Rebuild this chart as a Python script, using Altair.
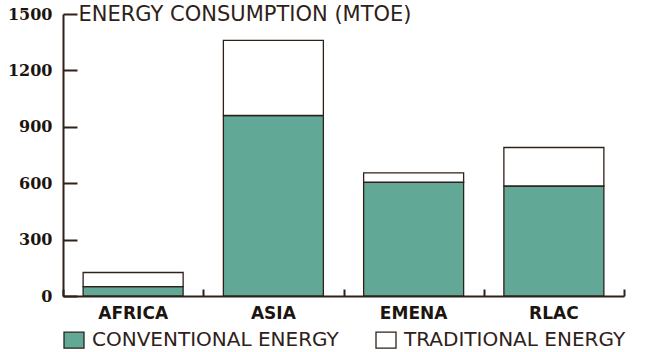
import altair as alt
import pandas as pd

regions = ["AFRICA", "ASIA", "EMENA", "RLAC"]
conventional = [50, 960, 605, 585]
traditional = [75, 400, 50, 205]
series = ["CONVENTIONAL ENERGY", "TRADITIONAL ENERGY"]
y_ticks = [0, 300, 600, 900, 1200, 1500]

rows = []
for i, r in enumerate(regions):
    rows.append({"region": r, "type": series[0], "value": conventional[i], "order": 0})
    rows.append({"region": r, "type": series[1], "value": traditional[i], "order": 1})
df = pd.DataFrame(rows)

dark = "#2e2119"
teal = "#62a896"
W, H = 561, 282

base = alt.Chart(df)

bars = base.mark_bar(stroke=dark, strokeWidth=1.3, width=100).encode(
    x=alt.X(
        "region:N", sort=regions,
        scale=alt.Scale(paddingInner=0, paddingOuter=0),
        axis=alt.Axis(
            title=None, orient="bottom", ticks=False, tickSize=0,
            domainColor=dark, domainWidth=2,
            labelFont="DejaVu Sans", labelFontWeight="bold", labelFontSize=17,
            labelColor="#1c1410", labelPadding=9, labelAngle=0,
        ),
    ),
    y=alt.Y(
        "value:Q", stack="zero",
        scale=alt.Scale(domain=[0, 1500], nice=False),
        axis=alt.Axis(
            values=y_ticks, format="d", title="ENERGY CONSUMPTION (MTOE)",
            titleAngle=0, titleAlign="left", titleBaseline="alphabetic",
            titleX=15, titleY=6, titleFont="DejaVu Sans", titleFontWeight="normal",
            titleFontSize=21, titleColor=dark,
            ticks=False, tickSize=0, labelPadding=11, grid=False,
            domainColor=dark, domainWidth=2,
            labelFont="DejaVu Serif", labelFontWeight="bold", labelFontSize=16,
            labelColor="#1c1410",
        ),
    ),
    color=alt.Color(
        "type:N",
        scale=alt.Scale(domain=series, range=[teal, "#ffffff"]),
        legend=alt.Legend(
            title=None, orient="none", legendX=0, legendY=315,
            direction="horizontal", symbolType="M-1,-0.8H1V0.8H-1Z",
            symbolSize=400, symbolStrokeColor=dark, symbolStrokeWidth=1.3,
            symbolOpacity=1, labelFont="DejaVu Sans", labelFontSize=20,
            labelColor=dark, labelOffset=7, columnPadding=34, padding=0,
            labelLimit=400,
        ),
    ),
    order=alt.Order("order:Q", sort="ascending"),
)

ticks = base.mark_bar(opacity=0).encode(
    x=alt.X(
        "region:N", sort=regions,
        axis=alt.Axis(
            orient="top", offset=-H, labels=False, domain=False, ticks=True,
            tickSize=7, tickBand="extent", tickColor=dark, tickWidth=2, title=None,
        ),
    ),
    y=alt.Y(
        "sum(value):Q",
        axis=alt.Axis(
            orient="right", offset=-W, labels=False, domain=False,
            tickSize=14, tickColor=dark, tickWidth=2, values=y_ticks,
            title=None, grid=False,
        ),
    ),
)

chart = (
    alt.layer(bars, ticks)
    .resolve_axis(x="independent", y="independent")
    .properties(
        width=W, height=H,
        padding={"left": 63, "top": 14, "right": 25, "bottom": 56},
        autosize=alt.AutoSizeParams(type="none"),
        background="#ffffff",
    )
    .configure_view(stroke=None)
)

chart.save("out.html", embed_options={"renderer": "svg", "actions": False})
